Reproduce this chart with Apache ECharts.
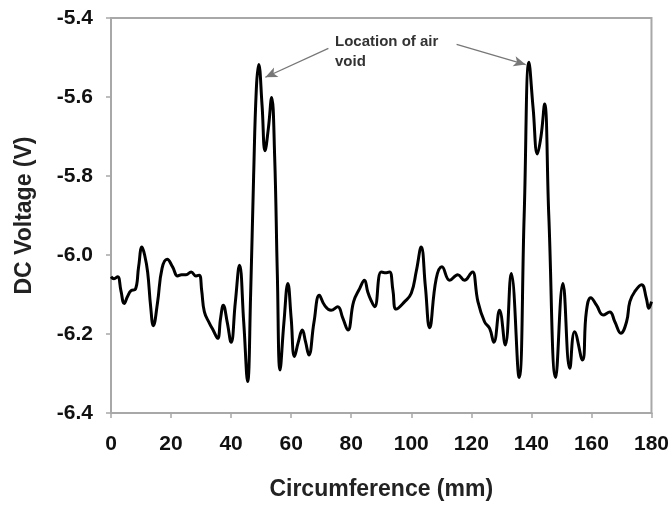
<!DOCTYPE html>
<html>
<head>
<meta charset="utf-8">
<script src="https://cdn.jsdelivr.net/npm/echarts@6/dist/echarts.min.js"></script>
<style>html,body{margin:0;padding:0;background:#fff}#c{width:672px;height:506px}</style>
</head>
<body>
<div id="c"></div>
<script>
// Circumference (mm)
const circumference = [0,1,2.2,3.3,4.4,5.5,6.7,8.1,9.2,10.3,11.2,12.2,13.2,14.1,15.5,17,18.7,20.5,22.2,23.5,25,26.7,28.3,29.4,30.2,31.1,32.8,34,35.5,36.5,37.4,38.7,40,41.4,42.8,44.2,45.5,46.5,47.5,48.4,49.2,50.3,51.3,52.4,53.5,54.5,55.4,56.3,57.6,58.9,60,61.1,62.4,63.7,64.8,65.9,67.6,69.4,71.1,73.3,75.5,77.2,78.9,80.8,82.8,84.4,85.5,86.6,87.8,90,91.7,92.8,93.9,95,97.8,100,101.7,103.3,104.7,106.1,108.3,110.2,112.8,115.5,117.7,120,120.5,122.2,124.4,126.1,127.5,129.4,131.3,133.3,135.9,137.6,139.2,140.6,142,143.2,144.4,145.8,148.1,150.5,152.8,154.4,157,158.3,159.8,161.7,163.9,166.1,167.8,169.8,171.7,172.8,174.4,176.7,178.3,179.1,180];
// DC Voltage (V)
const voltage = [-6.055,-6.06,-6.055,-6.09,-6.123,-6.105,-6.09,-6.087,-6.03,-5.98,-6.0,-6.043,-6.13,-6.179,-6.12,-6.034,-6.011,-6.03,-6.053,-6.05,-6.05,-6.043,-6.053,-6.051,-6.09,-6.144,-6.173,-6.19,-6.211,-6.16,-6.127,-6.17,-6.221,-6.12,-6.026,-6.17,-6.32,-6.1,-5.8,-5.58,-5.518,-5.62,-5.736,-5.68,-5.601,-5.75,-6.05,-6.291,-6.17,-6.072,-6.16,-6.257,-6.22,-6.19,-6.22,-6.253,-6.17,-6.102,-6.127,-6.14,-6.131,-6.16,-6.19,-6.118,-6.085,-6.064,-6.093,-6.115,-6.131,-6.043,-6.045,-6.043,-6.09,-6.137,-6.118,-6.097,-6.04,-5.98,-6.08,-6.184,-6.06,-6.03,-6.064,-6.05,-6.064,-6.045,-6.043,-6.118,-6.169,-6.186,-6.221,-6.14,-6.228,-6.047,-6.31,-5.9,-5.512,-5.63,-5.744,-5.7,-5.618,-5.9,-6.31,-6.072,-6.287,-6.194,-6.266,-6.144,-6.108,-6.127,-6.152,-6.144,-6.169,-6.198,-6.169,-6.118,-6.093,-6.075,-6.11,-6.135,-6.118];
const xTicks = [0,20,40,60,80,100,120,140,160,180];
const yTicks = [-6.4,-6.2,-6.0,-5.8,-5.6,-5.4];
// annotation arrows: [start, end] in data coordinates
const arrow1 = [[72.4,-5.477],[51.4,-5.55]];
const arrow2 = [[115.1,-5.467],[138.1,-5.518]];
const annotationText = 'Location of air\nvoid';

const seriesData = circumference.map((x,i)=>[x, voltage[i]]);
const chart = echarts.init(document.getElementById('c'));
const font = '"Liberation Sans", Arial, sans-serif';
chart.setOption({
  animation:false,
  grid:{left:111,right:20,top:18,bottom:91,show:true,borderColor:'#a8a8a8',borderWidth:2},
  xAxis:{type:'value',min:0,max:180,interval:20,
    name:'Circumference (mm)',nameLocation:'middle',nameGap:65,
    nameTextStyle:{fontFamily:font,fontWeight:'bold',fontSize:23,color:'#222'},
    axisLine:{lineStyle:{color:'#a8a8a8',width:2}},
    axisTick:{show:true,inside:false,length:5,lineStyle:{color:'#a8a8a8',width:1.5}},
    axisLabel:{margin:21,fontFamily:font,fontWeight:'bold',fontSize:21,color:'#111',
      formatter:v=>xTicks.includes(v)?String(v):''},
    splitLine:{show:false}},
  yAxis:{type:'value',min:-6.4,max:-5.4,interval:0.2,
    name:'DC Voltage (V)',nameLocation:'middle',nameGap:75,
    nameTextStyle:{fontFamily:font,fontWeight:'bold',fontSize:23,color:'#222'},
    axisLine:{show:true,lineStyle:{color:'#a8a8a8',width:2}},
    axisTick:{show:true,inside:false,length:5,lineStyle:{color:'#a8a8a8',width:1.5}},
    axisLabel:{margin:18,fontFamily:font,fontWeight:'bold',fontSize:21,color:'#111',
      formatter:v=>{const t=yTicks.find(k=>Math.abs(k-v)<1e-6);return t===undefined?'':t.toFixed(1);}},
    splitLine:{show:false}},
  series:[{
    type:'line',data:seriesData,showSymbol:false,smooth:0.45,
    lineStyle:{color:'#000',width:3},
    markLine:{silent:true,symbol:['none','arrow'],symbolSize:[8,12],
      lineStyle:{color:'#777',width:1.3,type:'solid'},label:{show:false},
      data:[[{coord:arrow1[0]},{coord:arrow1[1]}],[{coord:arrow2[0]},{coord:arrow2[1]}]]}
  }],
  graphic:[{type:'text',left:335,top:32,style:{text:annotationText,
    font:'bold 15px "Liberation Sans Narrow", "Liberation Sans", Arial, sans-serif',fill:'#333',lineHeight:20}}]
});
</script>
</body>
</html>
